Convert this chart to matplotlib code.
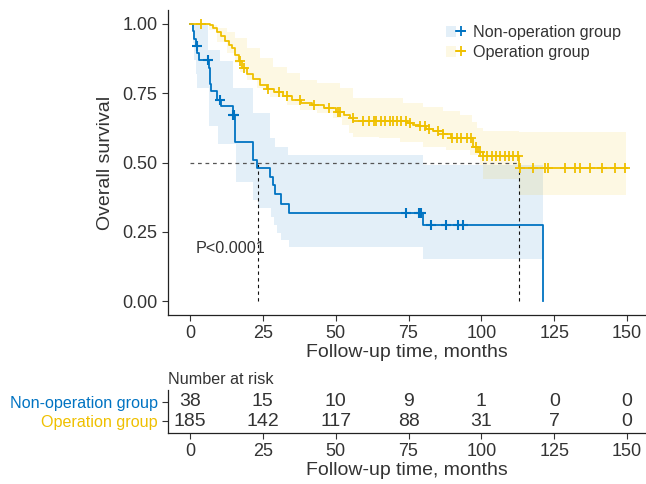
import numpy as np
import matplotlib
matplotlib.use("Agg")
import matplotlib.pyplot as plt
from matplotlib.patches import Patch
from matplotlib.lines import Line2D
from matplotlib.legend_handler import HandlerTuple

plt.rcParams['font.family'] = ['Liberation Sans', 'DejaVu Sans']

BLUE = '#0073C2'
GOLD = '#EFC000'

groups = ['Non-operation group', 'Operation group']

# ---- Non-operation group (KM step function) ----
non_t = [0, 1.0, 1.5, 2.0, 2.5, 3.0, 6.4, 6.7, 7.0, 7.3, 9.3, 10.5, 14.6, 15.4,
         21.6, 23.0, 27.5, 28.6, 29.3, 31.2, 34.0, 80.0, 121.0]
non_s = [1.0, 0.974, 0.947, 0.921, 0.895, 0.868, 0.84, 0.812, 0.784, 0.758, 0.726,
         0.704, 0.67, 0.574, 0.509, 0.48, 0.448, 0.419, 0.386, 0.35, 0.318, 0.274, 0.0]
non_censor = [2.4, 6.1, 10.2, 14.8, 15.1, 74.2, 78.6, 79.3, 82.7, 87.9, 92.0, 93.7]
non_ci_t = [0, 1.0, 1.5, 2.0, 2.5, 6.2, 6.5, 9.6, 10.3, 14.8, 15.8, 21.6, 23.3, 27.5,
            27.8, 28.8, 29.2, 29.9, 31.2, 33.6, 34.0, 80.0, 121.0]
non_lo = [1.0, 0.93, 0.87, 0.82, 0.77, 0.77, 0.63, 0.567, 0.567, 0.567, 0.43, 0.365,
          0.336, 0.336, 0.303, 0.274, 0.274, 0.245, 0.22, 0.22, 0.195, 0.152, 0.152]
non_hi = [1.0, 1.0, 1.0, 1.0, 1.0, 0.906, 0.906, 0.906, 0.866, 0.77, 0.77, 0.68,
          0.68, 0.59, 0.59, 0.59, 0.556, 0.556, 0.556, 0.527, 0.527, 0.49, 0.49]

# ---- Operation group ----
op_t = [0, 6.9, 8.0, 9.3, 10.6, 12.0, 13.4, 14.4, 15.4, 16.8, 17.8, 19.5, 21.6, 24.0,
        26.5, 29.0, 32.0, 35.0, 38.0, 42.0, 46.0, 50.0, 53.0, 55.0, 56.0, 74.5, 76.5,
        78.5, 81.0, 83.5, 87.0, 89.5, 97.0, 99.0, 100.5, 113.0, 150.0]
op_s = [1.0, 0.995, 0.985, 0.97, 0.955, 0.94, 0.925, 0.913, 0.888, 0.865, 0.84, 0.82,
        0.80, 0.78, 0.765, 0.755, 0.74, 0.725, 0.715, 0.708, 0.697, 0.682, 0.672, 0.66,
        0.65, 0.643, 0.636, 0.630, 0.622, 0.612, 0.603, 0.59, 0.556, 0.538, 0.524, 0.48, 0.48]
op_censor = [3.7, 17.2, 18.6, 26.8, 30.5, 33.4, 37.8, 42.6, 47.7, 50.8, 51.5, 55.8,
             59.4, 61.5, 63.0, 64.0, 65.5, 67.0, 68.5, 69.5, 71.0, 72.5, 74.0, 75.5,
             79.0, 80.5, 82.0, 85.0, 87.0, 90.0, 91.5, 93.0, 95.0, 96.5, 98.0, 99.5,
             100.5, 102.0, 103.5, 105.0, 106.5, 108.0, 109.5, 111.0, 112.5, 113.3,
             117.7, 121.8, 122.8, 128.7, 132.2, 133.9, 137.3, 141.4, 145.9, 149.3]
op_ci_t = [0, 6.5, 9.3, 12.7, 15.4, 17.2, 19.6, 23.0, 24.0, 27.5, 28.5, 33.3, 37.8,
           43.6, 49.0, 51.5, 52.0, 54.5, 56.0, 65.0, 72.0, 73.0, 80.0, 87.0, 88.0,
           92.7, 96.0, 96.8, 98.5, 99.5, 100.6, 113.0, 149.7]
op_lo = [1.0, 0.978, 0.935, 0.895, 0.859, 0.827, 0.798, 0.769, 0.769, 0.736, 0.736,
         0.708, 0.69, 0.679, 0.66, 0.66, 0.635, 0.606, 0.592, 0.588, 0.574, 0.574,
         0.556, 0.556, 0.545, 0.545, 0.527, 0.527, 0.527, 0.49, 0.44, 0.383, 0.383]
op_hi = [1.0, 0.995, 0.985, 0.971, 0.95, 0.95, 0.913, 0.913, 0.877, 0.877, 0.845,
         0.823, 0.798, 0.787, 0.787, 0.769, 0.769, 0.769, 0.733, 0.733, 0.733, 0.715,
         0.70, 0.686, 0.686, 0.671, 0.671, 0.646, 0.625, 0.625, 0.614, 0.61, 0.61]

medians = [23.3, 113.0]
p_text = 'P<0.0001'

risk_times = [0, 25, 50, 75, 100, 125, 150]
risk_non = [38, 15, 10, 9, 1, 0, 0]
risk_op = [185, 142, 117, 88, 31, 7, 0]

xticks = [0, 25, 50, 75, 100, 125, 150]
yticks = [0.0, 0.25, 0.5, 0.75, 1.0]

W, H = 646, 484
fig = plt.figure(figsize=(W / 100, H / 100), dpi=100)

def fx(px):
    return px / W

def fy(py):
    return 1 - py / H

TXT = '#333333'
FS_TICK = 13
FS_TITLE = 14
FS_SMALL = 11.6
FS_RISK = 14

ax = fig.add_axes([fx(168), fy(315), fx(646) - fx(168), fy(10) - fy(315)])
ax.set_xlim(-7.55, 156.5)
ax.set_ylim(-0.05, 1.05)
for s in ['top', 'right']:
    ax.spines[s].set_visible(False)
for s in ['left', 'bottom']:
    ax.spines[s].set_color('#222222')
    ax.spines[s].set_linewidth(0.9)

def step_val(ts, ss, t):
    i = np.searchsorted(ts, t, side='right') - 1
    return np.array(ss)[i]

# bands
ax.fill_between(non_ci_t, non_lo, non_hi, step='post', color=BLUE, alpha=0.11, lw=0)
ax.fill_between(op_ci_t, op_lo, op_hi, step='post', color=GOLD, alpha=0.11, lw=0)

# median lines
ax.plot([0, medians[1]], [0.5, 0.5], ls=(0, (3, 3)), color='#555555', lw=0.9)
for m in medians:
    ax.plot([m, m], [0, 0.5], ls=(0, (3, 3)), color='#111111', lw=0.8)

# curves
ax.step(non_t, non_s, where='post', color=BLUE, lw=1.3)
ax.step(op_t, op_s, where='post', color=GOLD, lw=1.3)
ax.plot(non_censor, step_val(non_t, non_s, non_censor), ls='none', marker='+',
        ms=7, mew=1.5, color=BLUE)
ax.plot(op_censor, step_val(op_t, op_s, op_censor), ls='none', marker='+',
        ms=7, mew=1.3, color=GOLD)

ax.text(2, 0.19, p_text, fontsize=FS_SMALL, color=TXT, ha='left', va='center')

ax.set_xticks(xticks)
ax.set_yticks(yticks)
ax.set_yticklabels(['%.2f' % v for v in yticks])
ax.tick_params(labelsize=FS_TICK, colors=TXT, length=4, width=0.8)
ax.set_xlabel('Follow-up time, months', fontsize=FS_TITLE, color=TXT, labelpad=1)
ax.set_ylabel('Overall survival', fontsize=FS_TITLE, color=TXT, labelpad=6)

handles = [(Patch(facecolor=BLUE, alpha=0.11, lw=0), Line2D([], [], color=BLUE, marker='+', ms=7, mew=1.3, lw=1.3)),
           (Patch(facecolor=GOLD, alpha=0.11, lw=0), Line2D([], [], color=GOLD, marker='+', ms=7, mew=1.3, lw=1.3))]
leg = ax.legend(handles, groups, handler_map={tuple: HandlerTuple(ndivide=None, pad=0)},
                loc='upper left', bbox_to_anchor=(fx(446), fy(25)), bbox_transform=fig.transFigure,
                frameon=False, fontsize=FS_SMALL, handlelength=1.2, handletextpad=0.5,
                labelspacing=0.3, borderpad=0, borderaxespad=0)
for t in leg.get_texts():
    t.set_color(TXT)

# risk table
rx = fig.add_axes([fx(168), fy(433), fx(646) - fx(168), fy(390) - fy(433)])
rx.set_xlim(-7.55, 156.5)
rx.set_ylim(0.4, 2.6)
for s in ['top', 'right']:
    rx.spines[s].set_visible(False)
for s in ['left', 'bottom']:
    rx.spines[s].set_color('#222222')
    rx.spines[s].set_linewidth(0.9)
for t, a, b in zip(risk_times, risk_non, risk_op):
    rx.text(t, 2, str(a), ha='center', va='center', fontsize=FS_RISK, color=TXT)
    rx.text(t, 1, str(b), ha='center', va='center', fontsize=FS_RISK, color=TXT)
rx.set_xticks(xticks)
rx.set_yticks([2, 1])
rx.set_yticklabels(groups)
rx.tick_params(axis='y', labelsize=FS_SMALL, length=4, width=0.8, colors='#333333')
for lab, c in zip(rx.get_yticklabels(), [BLUE, GOLD]):
    lab.set_color(c)
rx.tick_params(axis='x', labelsize=FS_TICK, colors=TXT, length=4, width=0.8)
rx.set_xlabel('Follow-up time, months', fontsize=FS_TITLE, color=TXT, labelpad=1)
rx.set_title('Number at risk', fontsize=FS_SMALL, color=TXT, loc='left', pad=4, x=0.0)

fig.savefig('out.png', dpi=100)
